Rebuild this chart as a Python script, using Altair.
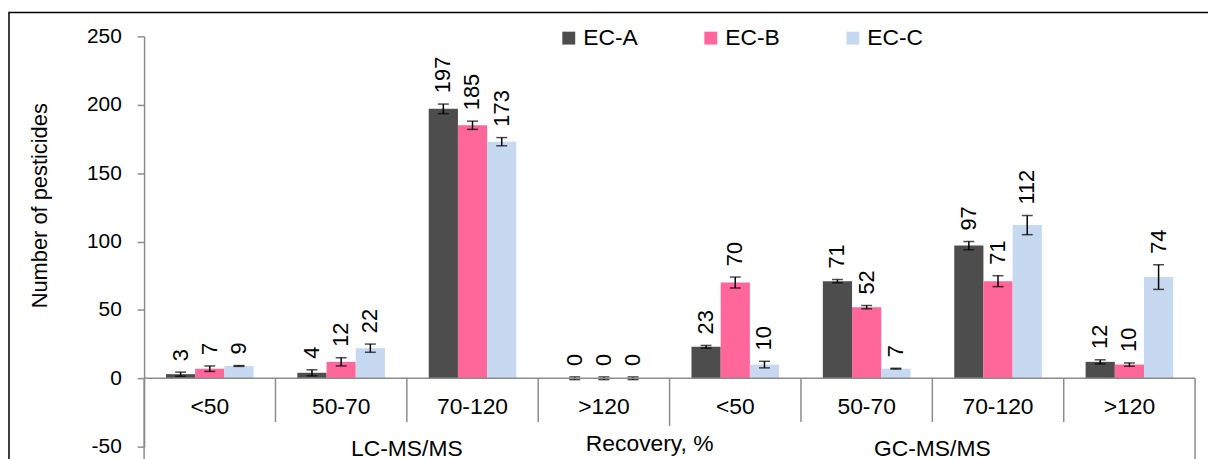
import altair as alt
import pandas as pd

# ---- data ----
categories = ["<50", "50-70", "70-120", ">120", "<50", "50-70", "70-120", ">120"]
category_group = ["LC-MS/MS"] * 4 + ["GC-MS/MS"] * 4
groups = ["LC-MS/MS", "GC-MS/MS"]
series = ["EC-A", "EC-B", "EC-C"]
colors = ["#4d4d4d", "#ff6699", "#c6d9f1"]

ec_a = [3, 4, 197, 0, 23, 71, 97, 12]
ec_b = [7, 12, 185, 0, 70, 52, 71, 10]
ec_c = [9, 22, 173, 0, 10, 7, 112, 74]
err_a = [1.5, 2.2, 3.5, 1.0, 1.0, 1.2, 3.0, 1.5]
err_b = [2.0, 3.0, 3.0, 1.0, 4.0, 1.2, 4.0, 1.2]
err_c = [0.3, 3.0, 3.0, 1.0, 2.4, 0.3, 7.0, 9.0]
y_ticks = [-50, 0, 50, 100, 150, 200, 250]

FONT = "Liberation Sans"
W, H = 1058, 413

keys = [f"{g}|{c}|{i}" for i, (g, c) in enumerate(zip(category_group, categories))]

rows = []
for s, vals, errs in zip(series, [ec_a, ec_b, ec_c], [err_a, err_b, err_c]):
    for k, c, v, e in zip(keys, categories, vals, errs):
        rows.append({"key": k, "cat": c, "series": s, "value": v,
                     "lo": v - e, "hi": v + e})
df = pd.DataFrame(rows)

cat_df = pd.DataFrame({"key": keys, "cat": categories})
inner_sep = pd.DataFrame({"key": [k for i, k in enumerate(keys) if i not in (0, 4)]})
mid_sep = pd.DataFrame({"key": [keys[4]]})
outer_left = pd.DataFrame({"key": [keys[0]]})
outer_right = pd.DataFrame({"key": [keys[-1]]})
group_df = pd.DataFrame({"key": [keys[2], keys[6]], "group": groups})

xscale = alt.Scale(domain=keys, paddingInner=0, paddingOuter=0)
yscale = alt.Scale(domain=[-50, 250], nice=False, zero=False)
xo = alt.XOffset("series:N", scale=alt.Scale(domain=series, paddingInner=0, paddingOuter=0.75))
X = alt.X("key:N", scale=xscale, axis=None)

bars = alt.Chart(df).mark_bar().encode(
    x=X,
    xOffset=xo,
    y=alt.Y("value:Q", scale=yscale,
            axis=alt.Axis(values=y_ticks, title="Number of pesticides",
                          labelExpr="'' + datum.value",
                          titleX=-105, titleY=170, titleAngle=270,
                          titleAlign="center", titleBaseline="middle",
                          titleFontSize=22, titleFontWeight="normal",
                          labelFontSize=21, tickSize=7, labelPadding=16,
                          grid=False, domainColor="#8c8c8c", tickColor="#8c8c8c",
                          domainWidth=1.5, tickWidth=1.5)),
    y2=alt.datum(0),
    color=alt.Color("series:N", scale=alt.Scale(domain=series, range=colors),
                    legend=alt.Legend(orient="none", legendX=416, legendY=-10,
                                      direction="horizontal", title=None,
                                      symbolType="square", symbolSize=169,
                                      symbolStrokeWidth=0, labelFontSize=23,
                                      labelFont=FONT, labelOffset=3,
                                      columnPadding=62, padding=0)),
)

err = alt.Chart(df).mark_rule(color="black", strokeWidth=1.5).encode(
    x=X, xOffset=xo, y=alt.Y("lo:Q", scale=yscale), y2="hi:Q")
cap_hi = alt.Chart(df).mark_tick(color="black", thickness=1.5, size=11, orient="horizontal").encode(
    x=X, xOffset=xo, y=alt.Y("hi:Q", scale=yscale))
cap_lo = alt.Chart(df).mark_tick(color="black", thickness=1.5, size=11, orient="horizontal").encode(
    x=X, xOffset=xo, y=alt.Y("lo:Q", scale=yscale))

labels = alt.Chart(df).mark_text(angle=270, align="left", baseline="middle", dx=11,
                                 fontSize=22, font=FONT, color="black").encode(
    x=X, xOffset=xo, y=alt.Y("hi:Q", scale=yscale), text="value:Q")

zero_line = alt.Chart(pd.DataFrame({"z": [0]})).mark_rule(color="#8c8c8c", strokeWidth=1.5).encode(
    y=alt.Y("z:Q", scale=yscale), x=alt.value(0), x2=alt.value(W))

sep_inner = alt.Chart(inner_sep).mark_rule(color="#8c8c8c", strokeWidth=1.5).encode(
    x=alt.X("key:N", scale=xscale, bandPosition=0), y=alt.datum(0), y2=alt.datum(-32))
sep_mid = alt.Chart(mid_sep).mark_rule(color="#8c8c8c", strokeWidth=1.5).encode(
    x=alt.X("key:N", scale=xscale, bandPosition=0), y=alt.datum(0), y2=alt.datum(-35))
sep_left = alt.Chart(outer_left).mark_rule(color="#8c8c8c", strokeWidth=1.5).encode(
    x=alt.X("key:N", scale=xscale, bandPosition=0), y=alt.datum(0), y2=alt.datum(-65))
sep_right = alt.Chart(outer_right).mark_rule(color="#8c8c8c", strokeWidth=1.5).encode(
    x=alt.X("key:N", scale=xscale, bandPosition=1), y=alt.datum(0), y2=alt.datum(-65))

cat_labels = alt.Chart(cat_df).mark_text(fontSize=23, font=FONT, color="black",
                                         baseline="middle").encode(
    x=alt.X("key:N", scale=xscale), y=alt.datum(-21), text="cat:N")

group_labels = alt.Chart(group_df).mark_text(fontSize=23, font=FONT, color="black",
                                             baseline="middle").encode(
    x=alt.X("key:N", scale=xscale, bandPosition=0), y=alt.datum(-51.5), text="group:N")

x_title = alt.Chart(pd.DataFrame({"t": ["Recovery, %"]})).mark_text(
    fontSize=23, font=FONT, color="black", baseline="middle").encode(
    x=alt.value(509), y=alt.value(410), text="t:N")

frame = alt.Chart(pd.DataFrame({"f": [1]})).mark_rect(
    fill="transparent", stroke="black", strokeWidth=1.5).encode(
    x=alt.value(-136), x2=alt.value(W + 40), y=alt.value(-24), y2=alt.value(H + 80))

chart = alt.layer(
    frame, bars, err, cap_hi, cap_lo, labels, zero_line,
    sep_inner, sep_mid, sep_left, sep_right, cat_labels, group_labels, x_title
).properties(
    width=W, height=H,
    autosize=alt.AutoSizeParams(type="none"),
    padding={"left": 137, "top": 27, "right": 13, "bottom": 30},
).configure_view(stroke=None).configure_axis(
    labelFont=FONT, titleFont=FONT, labelColor="black", titleColor="black"
).configure_legend(labelColor="black")

chart.save("out.html", embed_options={"renderer": "svg", "actions": False})
